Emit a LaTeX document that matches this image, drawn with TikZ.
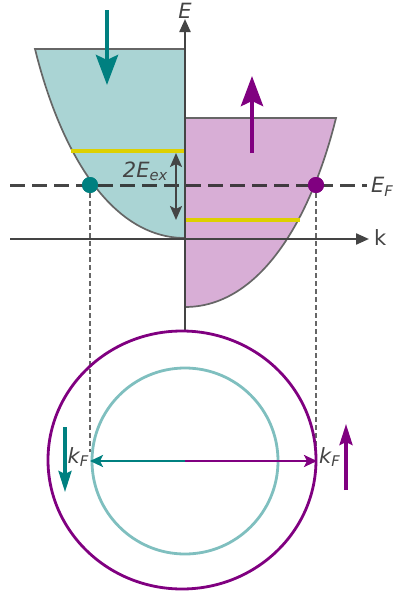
\documentclass[tikz,border=0pt]{standalone}
\usepackage{fontspec}
\setmainfont{DejaVu Sans}
\usepackage{tikz}
\usetikzlibrary{
    arrows.meta,
    positioning
}
\definecolor{spinteal}{HTML}{008080}
\definecolor{spinpurple}{HTML}{800080}
\definecolor{tealband}{HTML}{AAD4D4}
\definecolor{purpleband}{HTML}{D8AED6}
\definecolor{tealring}{HTML}{7FBFBF}
\definecolor{levelyellow}{HTML}{DDD000}
\definecolor{axisgray}{HTML}{444444}
\definecolor{edgegray}{HTML}{666666}
\tikzstyle{axisline} = [
    -{Triangle[length=13pt,width=11pt]},
    line width=2.2pt,
    draw=axisgray
]
\tikzstyle{bandedge} = [
    draw=edgegray,
    line width=1.7pt
]
\tikzstyle{yellowlevel} = [
    draw=levelyellow,
    line width=3.2pt
]
\tikzstyle{fermiline} = [
    draw=black!85,
    dash pattern=on 15pt off 7pt,
    line width=3pt,
    opacity=0.85
]
\tikzstyle{dropline} = [
    draw=edgegray,
    dash pattern=on 5pt off 3pt,
    line width=1.6pt
]
\tikzstyle{fermidot} = [
    circle,
    inner sep=0pt,
    minimum size=16pt
]
\tikzstyle{spinarrow} = [
    -{Stealth[length=30pt,width=22pt,inset=5pt]},
    line width=4.5pt
]
\tikzstyle{smallspin} = [
    -{Stealth[length=21pt,width=13pt,inset=3pt]},
    line width=3.2pt
]
\tikzstyle{kfarrow} = [
    -{Stealth[length=13pt,width=12pt,inset=3pt]},
    line width=2.8pt
]
\tikzstyle{axislabel} = [
    inner sep=1pt,
    text=axisgray,
    font=\fontsize{21}{24}\selectfont
]

\begin{document}
\begin{tikzpicture}[x=1pt, y=-1pt]
        \useasboundingbox (0,0) rectangle (394,597);

        % spin-down band (left)
        \fill[tealband] (185,49) -- (35,49) .. controls (60,150) and (110,238) .. (185,238) -- cycle;
        \draw[bandedge] (185,49) -- (35,49) .. controls (60,150) and (110,238) .. (185,238);

        % spin-up band (right)
        \fill[purpleband] (185,118) -- (336,118) .. controls (311,219) and (260,307) .. (185,307) -- cycle;
        \draw[bandedge] (185,118) -- (336,118) .. controls (311,219) and (260,307) .. (185,307);

        % band bottoms shifted by the exchange energy
        \draw[yellowlevel] (71,151) -- (185,151);
        \draw[yellowlevel] (185,220) -- (300,220);

        % axes
        \coordinate (korigin) at (10,239);
        \coordinate (kend) at (369,239);
        \coordinate (eorigin) at (185,330);
        \coordinate (eend) at (185,19);
        \draw[axisline] (korigin) -- (kend);
        \draw[axisline] (eorigin) -- (eend);
        \node[axislabel, anchor=west] (klabel) at (373,238) {k};
        \node[axislabel, anchor=base] (elabel) at (185,18) {\itshape E};

        % Fermi points
        \node[fermidot, fill=spinteal] (kfdown) at (90,185) {};
        \node[fermidot, fill=spinpurple] (kfup) at (316,185) {};

        % projections down to the Fermi circles
        \coordinate (kfdownfoot) at (90,452);
        \coordinate (kfupfoot) at (316,450);
        \draw[dropline] (kfdown) -- (kfdownfoot);
        \draw[dropline] (kfup) -- (kfupfoot);

        % Fermi level
        \coordinate (fstart) at (10,185);
        \coordinate (fend) at (367,185);
        \draw[fermiline] (fstart) -- (fend);
        \node[axislabel, anchor=west] (eflabel) at (370,187) {\itshape E\textsubscript{F}};
        \node[fermidot, fill=spinteal] at (kfdown) {};
        \node[fermidot, fill=spinpurple] at (kfup) {};

        % exchange splitting
        \coordinate (exhigh) at (176,153);
        \coordinate (exlow) at (176,220);
        \draw[{Stealth[length=14pt,width=12pt,inset=3pt]}-{Stealth[length=14pt,width=12pt,inset=3pt]}, line width=2.2pt, axisgray] (exhigh) -- (exlow);
        \node[axislabel, anchor=east] (exlabel) at (169,171) {\itshape 2E\textsubscript{ex}};

        % spin directions (top)
        \coordinate (downtail) at (107,10);
        \coordinate (downtip) at (107,85);
        \coordinate (uptail) at (252,153);
        \coordinate (uptip) at (252,76);
        \draw[spinarrow, spinteal] (downtail) -- (downtip);
        \draw[spinarrow, spinpurple] (uptail) -- (uptip);

        % Fermi circles (bottom)
        \coordinate (outercenter) at (182,460);
        \coordinate (kcenter) at (185,461);
        \draw[spinpurple, line width=2.8pt] (outercenter) ellipse[x radius=134, y radius=129];
        \draw[tealring, line width=2.8pt] (kcenter) circle[radius=93];

        % Fermi wave vectors
        \coordinate (kfleft) at (90,461);
        \coordinate (kfright) at (317,461);
        \draw[kfarrow, spinteal] (kcenter) -- (kfleft);
        \draw[kfarrow, spinpurple] (kcenter) -- (kfright);
        \node[axislabel, anchor=east] (kfleftlabel) at (90,457) {\itshape k\textsubscript{F}};
        \node[axislabel, anchor=west] (kfrightlabel) at (318,457) {\itshape k\textsubscript{F}};

        % spin directions (bottom)
        \coordinate (sdowntail) at (65,427);
        \coordinate (sdowntip) at (65,492);
        \coordinate (suptail) at (346,490);
        \coordinate (suptip) at (346,424);
        \draw[smallspin, spinteal] (sdowntail) -- (sdowntip);
        \draw[smallspin, spinpurple] (suptail) -- (suptip);
    \end{tikzpicture}
\end{document}
